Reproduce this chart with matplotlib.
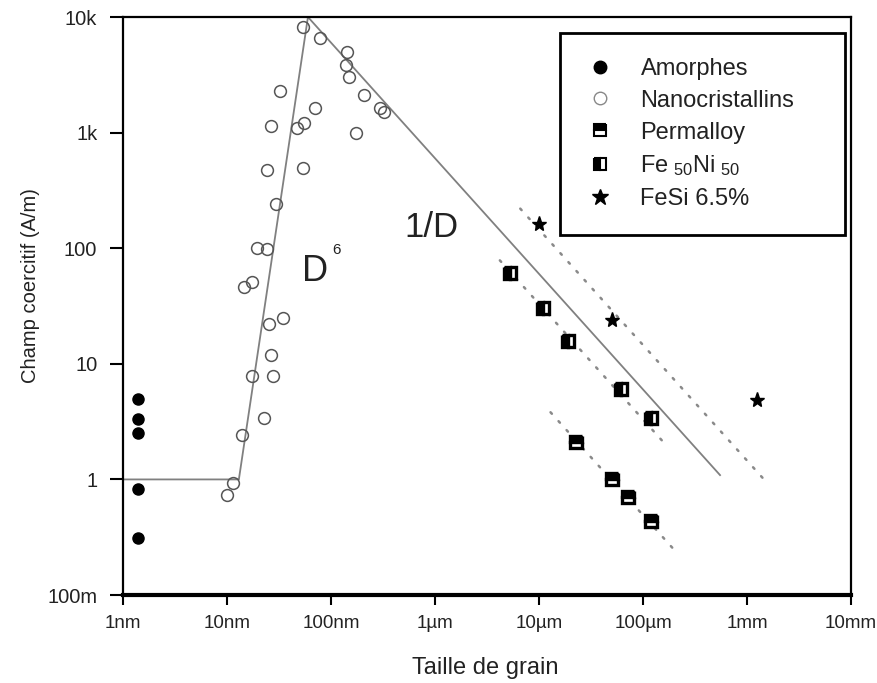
import matplotlib
matplotlib.use("Agg")
import matplotlib.pyplot as plt
from matplotlib.lines import Line2D
import numpy as np

plt.rcParams["font.family"] = ["Liberation Sans", "DejaVu Sans"]
plt.rcParams["mathtext.default"] = "regular"

# grain size in metres, coercive field in A/m
amorphes_d = [1.4e-9, 1.4e-9, 1.4e-9, 1.4e-9, 1.4e-9]
amorphes_hc = [5.0, 3.3, 2.5, 0.83, 0.31]

nano_d = [54e-9, 79e-9, 143e-9, 140e-9, 150e-9, 32e-9, 209e-9, 297e-9, 325e-9,
          70e-9, 55e-9, 47e-9, 26.6e-9, 175e-9, 24.3e-9, 54e-9, 29.7e-9, 19.5e-9,
          24.3e-9, 17.5e-9, 14.6e-9, 25.4e-9, 34.7e-9, 26.6e-9, 17.5e-9, 27.8e-9,
          22.7e-9, 14e-9, 11.5e-9, 10e-9]
nano_hc = [8200, 6600, 5000, 3850, 3000, 2300, 2130, 1620, 1520,
           1620, 1200, 1100, 1135, 990, 475, 495, 243, 100,
           98, 51, 46, 22, 25, 12, 7.9, 7.8,
           3.4, 2.4, 0.94, 0.74]

permalloy_d = [22.9e-6, 49.8e-6, 71e-6, 118e-6]
permalloy_hc = [2.1, 1.0, 0.71, 0.44]

feni_d = [5.3e-6, 11e-6, 19.2e-6, 62e-6, 118e-6]
feni_hc = [61, 30.4, 15.8, 6.1, 3.4]

fesi_d = [9.9e-6, 50.8e-6, 1.24e-3]
fesi_hc = [163, 24, 4.9]

# fitted trends: plateau, D^6 rise, 1/D decay
trend_d = [1e-9, 1.3e-8, 6e-8, 5.5e-4]
trend_hc = [1.0, 1.0, 1e4, 1.09]

# dotted 1/D guides
fesi_fit_d = [6.6e-6, 1.6e-3]
fesi_fit_hc = [220, 0.91]
feni_fit_d = [4.2e-6, 172e-6]
feni_fit_hc = [78.5, 1.92]
perm_fit_d = [12.9e-6, 220e-6]
perm_fit_hc = [3.81, 0.223]

x_ticks = [1e-9, 1e-8, 1e-7, 1e-6, 1e-5, 1e-4, 1e-3, 1e-2]
x_labels = ["1nm", "10nm", "100nm", "1µm", "10µm", "100µm", "1mm", "10mm"]
y_ticks = [0.1, 1, 10, 100, 1e3, 1e4]
y_labels = ["100m", "1", "10", "100", "1k", "10k"]

text_col = "#222222"
line_col = "#808080"
dot_col = "#8a8a8a"

fig = plt.figure(figsize=(8.78, 6.83), dpi=100)
ax = fig.add_axes([0.1401, 0.1288, 0.8292, 0.8463])
ax.set_xscale("log")
ax.set_yscale("log")
ax.set_xlim(1e-9, 1e-2)
ax.set_ylim(0.1, 1e4)

ax.plot(trend_d, trend_hc, color=line_col, lw=1.3, zorder=2)
for xd, yd in [(fesi_fit_d, fesi_fit_hc), (feni_fit_d, feni_fit_hc), (perm_fit_d, perm_fit_hc)]:
    ax.plot(xd, yd, color=dot_col, lw=1.8, linestyle=(0, (0.8, 4.0)),
            dash_capstyle="round", zorder=2)

ax.plot(amorphes_d, amorphes_hc, "o", ms=8, color="black", zorder=3)
ax.plot(nano_d, nano_hc, "o", ms=8.5, mfc="none", mec="#555555", mew=1.1, zorder=3)
ax.plot(permalloy_d, permalloy_hc, "s", ms=8.5, fillstyle="top", mfc="black",
        mfcalt="white", mec="black", mew=2.4, zorder=3)
ax.plot(feni_d, feni_hc, "s", ms=8.5, fillstyle="left", mfc="black",
        mfcalt="white", mec="black", mew=2.4, zorder=3)
ax.plot(fesi_d, fesi_hc, "*", ms=11, color="black", zorder=3)

ax.text(7.0e-8, 63, "D", fontsize=26, ha="center", va="center", color=text_col)
ax.text(1.14e-7, 96, "6", fontsize=11, ha="center", va="center", color=text_col)
ax.text(9.3e-7, 152, "1/D", fontsize=25, ha="center", va="center", color=text_col)

ax.xaxis.set_major_locator(matplotlib.ticker.FixedLocator(x_ticks))
ax.xaxis.set_minor_locator(matplotlib.ticker.NullLocator())
ax.set_xticklabels(x_labels)
ax.yaxis.set_major_locator(matplotlib.ticker.FixedLocator(y_ticks))
ax.yaxis.set_minor_locator(matplotlib.ticker.NullLocator())
ax.set_yticklabels(y_labels)
ax.tick_params(axis="x", length=7.5, width=1.5, pad=7, labelsize=13.5, colors="black",
               labelcolor=text_col)
ax.tick_params(axis="y", length=9.5, width=1.5, pad=9, labelsize=14.5, colors="black",
               labelcolor=text_col)

for side in ["left", "top", "right"]:
    ax.spines[side].set_linewidth(1.6)
ax.spines["bottom"].set_linewidth(3.0)

ax.set_xlabel("Taille de grain", fontsize=17, color=text_col)
ax.set_ylabel("Champ coercitif (A/m)", fontsize=14.5, color=text_col)
ax.xaxis.set_label_coords(0.497, -0.107)
ax.yaxis.set_label_coords(-0.114, 0.535)

handles = [
    Line2D([], [], ls="none", marker="o", ms=9, color="black"),
    Line2D([], [], ls="none", marker="o", ms=9, mfc="none", mec="#888888", mew=1.0),
    Line2D([], [], ls="none", marker="s", ms=8, fillstyle="top", mfc="black",
           mfcalt="white", mec="black", mew=1.5),
    Line2D([], [], ls="none", marker="s", ms=8, fillstyle="left", mfc="black",
           mfcalt="white", mec="black", mew=1.5),
    Line2D([], [], ls="none", marker="*", ms=12, color="black"),
]
names = ["Amorphes", "Nanocristallins", "Permalloy", r"Fe$_{\ 50}$Ni$_{\ 50}$", "FeSi 6.5%"]
leg = ax.legend(handles, names, loc="upper left",
                bbox_to_anchor=(0.6005, 0.9723, 0.3913, 0.0), mode="expand",
                borderaxespad=0, fontsize=17, borderpad=1.05, handlelength=1.25,
                handletextpad=1.1, labelspacing=0.42, fancybox=False,
                framealpha=1, edgecolor="black", labelcolor=text_col)
leg.get_frame().set_linewidth(2.0)

fig.savefig("out.png", dpi=100)
